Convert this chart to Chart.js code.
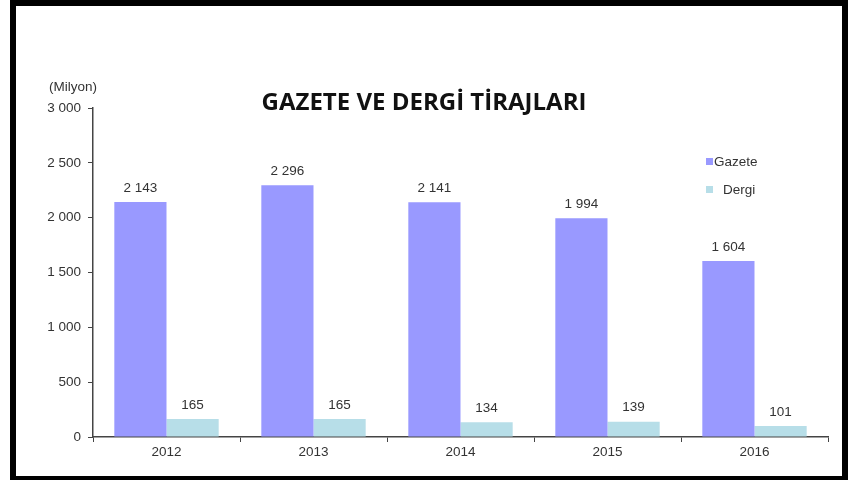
<!DOCTYPE html>
<html>
<head>
<meta charset="utf-8">
<script src="https://cdn.jsdelivr.net/npm/chart.js@4.4.0/dist/chart.umd.min.js"></script>
<style>
  html, body { margin: 0; padding: 0; background: #fff; }
  #wrap { position: absolute; left: 0; top: 0; width: 860px; height: 480px; }
  #frame {
    position: absolute; left: 10px; top: 0; width: 838px; height: 480px;
    box-sizing: border-box; border: 6px solid #000; border-bottom-width: 4px;
    pointer-events: none;
  }
</style>
</head>
<body>
<div id="wrap"><canvas id="myChart" width="860" height="480"></canvas></div>
<div id="frame"></div>
<script>
const years = ['2012', '2013', '2014', '2015', '2016'];
const gazete = [2143, 2296, 2141, 1994, 1604];
const dergi = [165, 165, 134, 139, 101];
const seriesNames = ['Gazete', 'Dergi'];
const chartTitle = 'GAZETE VE DERGİ TİRAJLARI';
const unitLabel = '(Milyon)';

const FONT = '"Liberation Sans", Arial, sans-serif';

function fmt(v) {
    return String(v).replace(/\B(?=(\d{3})+(?!\d))/g, ' ');
}

// values above bars, title, unit and legend
const extras = {
    id: 'extras',
    afterDatasetsDraw: function(chart) {
        var ctx = chart.ctx;
        var area = chart.chartArea;
        ctx.save();
        ctx.fillStyle = '#333';
        ctx.font = '13.5px ' + FONT;
        ctx.textAlign = 'center';
        ctx.textBaseline = 'middle';
        chart.data.datasets.forEach(function(ds, i) {
            chart.getDatasetMeta(i).data.forEach(function(bar, j) {
                ctx.fillText(fmt(ds.data[j]), bar.x, bar.y - 14);
            });
        });

        ctx.textAlign = 'right';
        ctx.fillText(unitLabel, area.left + 4, area.top - 21);

        ctx.fillStyle = '#111';
        ctx.textAlign = 'center';
        ctx.font = 'bold 24px "Open Sans", sans-serif';
        ctx.fillText(chartTitle, 424, area.top - 5);

        ctx.font = '13.5px ' + FONT;
        ctx.textAlign = 'left';
        chart.data.datasets.forEach(function(ds, i) {
            var y = 162 + i * 28;
            ctx.fillStyle = ds.backgroundColor;
            ctx.fillRect(706, y - 4, 7, 7);
            ctx.fillStyle = '#333';
            ctx.fillText(ds.label, 714 + i * 9, y);
        });
        ctx.restore();
    }
};

var ctx = document.getElementById('myChart').getContext('2d');
new Chart(ctx, {
    type: 'bar',
    data: {
        labels: years,
        datasets: [{
            label: seriesNames[0],
            data: gazete,
            backgroundColor: '#9999FF'
        }, {
            label: seriesNames[1],
            data: dergi,
            backgroundColor: '#B7DEE8'
        }]
    },
    options: {
        responsive: false,
        animation: false,
        layout: { padding: { left: 0, right: 32, top: 108, bottom: 0 } },
        plugins: {
            legend: { display: false },
            tooltip: { enabled: false }
        },
        datasets: {
            bar: { categoryPercentage: 0.71, barPercentage: 1.0 }
        },
        scales: {
            x: {
                afterFit: function(s) { s.height = 43; },
                grid: { offset: true, drawOnChartArea: false, tickLength: 5, color: '#444' },
                border: { display: true, color: '#444', width: 1.5 },
                ticks: { color: '#333', padding: 2, font: { size: 13.5, family: FONT } }
            },
            y: {
                min: 0,
                max: 3000,
                afterFit: function(s) { s.width = 93; },
                grid: { drawOnChartArea: false, tickLength: 5, color: '#444' },
                border: { display: true, color: '#444', width: 1.5 },
                ticks: {
                    stepSize: 500,
                    color: '#333',
                    padding: 7,
                    font: { size: 13.5, family: FONT },
                    callback: function(v) { return fmt(v); }
                }
            }
        }
    },
    plugins: [extras]
});
</script>
</body>
</html>
